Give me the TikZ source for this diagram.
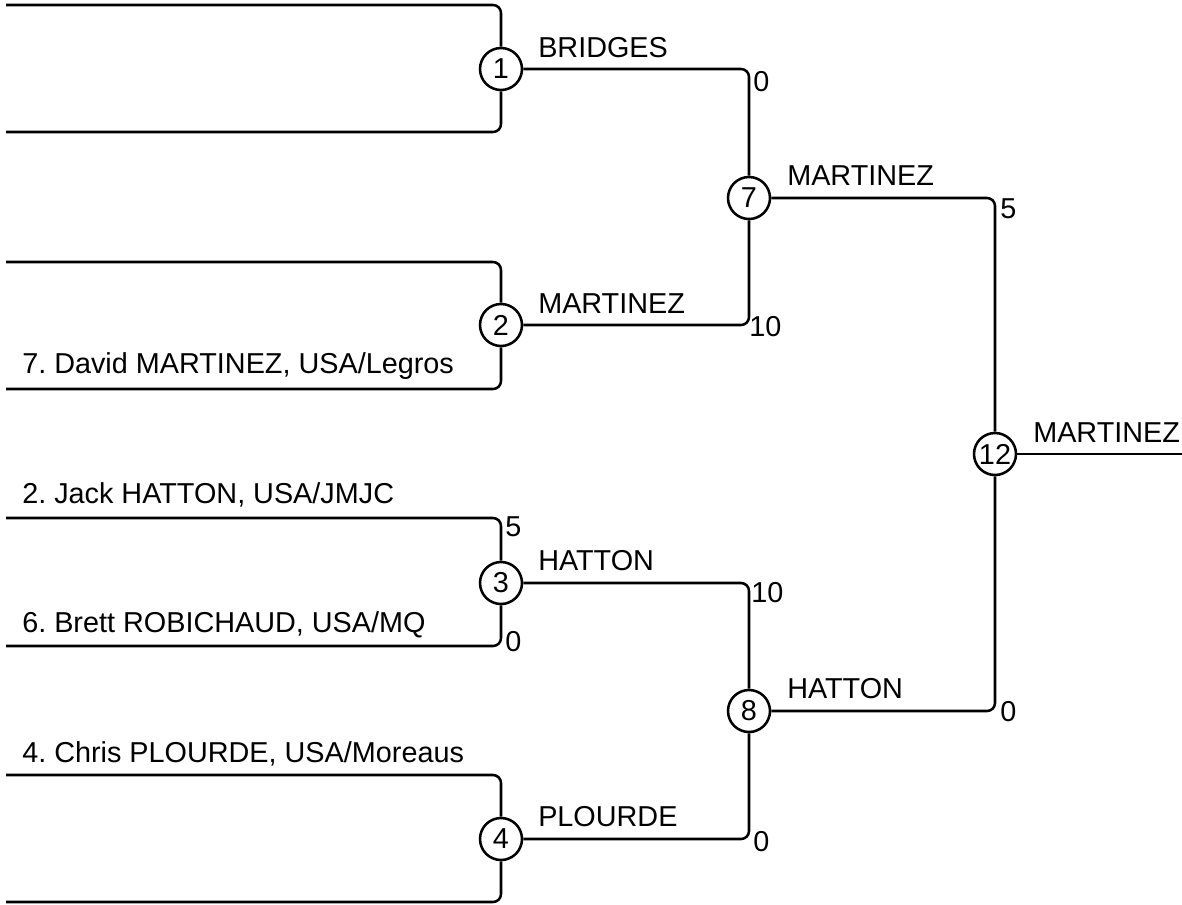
\documentclass[tikz,border=0pt]{standalone}
\usepackage{fontspec}
\setmainfont{Liberation Sans}
\frenchspacing
\begin{document}
\begin{tikzpicture}[x=0.75pt,y=-0.75pt,
  link/.style={line width=1.9pt, rounded corners=6pt},
  seed/.style={circle, draw, line width=1.9pt, minimum size=31.5pt, inner sep=0pt, font=\fontsize{21.6pt}{25pt}\selectfont},
  lbl/.style={anchor=base west, inner sep=0pt, font=\fontsize{21.6pt}{25pt}\selectfont},
  score/.style={anchor=west, inner sep=0pt, font=\fontsize{21.6pt}{25pt}\selectfont}]
\useasboundingbox (0,0) rectangle (1182,904);

% match circles
\node[seed] (c1) at (501,69) {1};
\node[seed] (c2) at (501,325) {2};
\node[seed] (c3) at (501,583) {3};
\node[seed] (c4) at (501,839) {4};
\node[seed] (c7) at (749,198) {7};
\node[seed] (c8) at (749,711) {8};
\node[seed] (c12) at (995,454) {12};

% free ends
\coordinate (a1) at (6,5);
\coordinate (b1) at (6,132);
\coordinate (a2) at (6,262);
\coordinate (b2) at (6,389);
\coordinate (a3) at (6,518);
\coordinate (b3) at (6,646);
\coordinate (a4) at (6,775);
\coordinate (b4) at (6,902);
\coordinate (fin) at (1182,454);

% first round brackets
\draw[link] (a1) -| (c1.north);
\draw[link] (b1) -| (c1.south);
\draw[link] (a2) -| (c2.north);
\draw[link] (b2) -| (c2.south);
\draw[link] (a3) -| (c3.north);
\draw[link] (b3) -| (c3.south);
\draw[link] (a4) -| (c4.north);
\draw[link] (b4) -| (c4.south);

% later rounds
\draw[link] (c1.east) -| (c7.north);
\draw[link] (c2.east) -| (c7.south);
\draw[link] (c3.east) -| (c8.north);
\draw[link] (c4.east) -| (c8.south);
\draw[link] (c7.east) -| (c12.north);
\draw[link] (c8.east) -| (c12.south);
\draw[link] (c12.east) -- (fin);

% player names
\node[lbl] (p2) at (22,373) {7. David MARTINEZ, USA/Legros};
\node[lbl] (p3) at (22,503) {2. Jack HATTON, USA/JMJC};
\node[lbl] (p4) at (22,632) {6. Brett ROBICHAUD, USA/MQ};
\node[lbl] (p5) at (22,762) {4. Chris PLOURDE, USA/Moreaus};

% winners
\node[lbl] (w1) at (538,57) {BRIDGES};
\node[lbl] (w2) at (538,313) {MARTINEZ};
\node[lbl] (w3) at (538,570) {HATTON};
\node[lbl] (w4) at (538,826) {PLOURDE};
\node[lbl] (w7) at (787,185) {MARTINEZ};
\node[lbl] (w8) at (787,698) {HATTON};
\node[lbl] (w12) at (1033,442) {MARTINEZ};

% scores
\node[score] (s3a) at (505,527) {5};
\node[score] (s3b) at (505,642) {0};
\node[score] (s1) at (753,82) {0};
\node[score] (s2) at (749,327) {10};
\node[score] (s3) at (751,593) {10};
\node[score] (s4) at (753,842) {0};
\node[score] (s7) at (1000,209) {5};
\node[score] (s8) at (1000,712) {0};
\end{tikzpicture}
\end{document}
